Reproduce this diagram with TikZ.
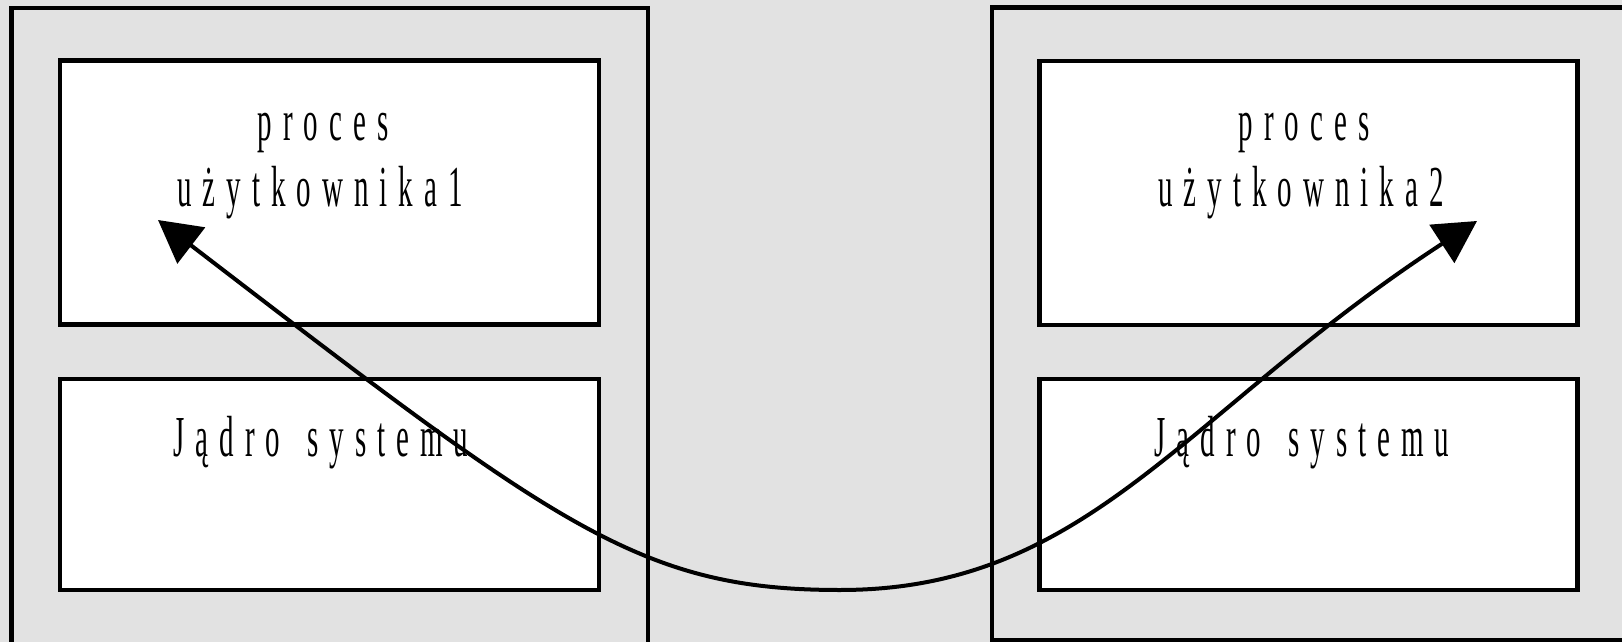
\documentclass[tikz,border=0pt]{standalone}
\usepackage{fontspec}
\usetikzlibrary{arrows.meta}
\newfontfamily\condserif[FakeStretch=0.5]{Liberation Serif}
\definecolor{bgmarble}{RGB}{226,226,226}
\makeatletter
\newcommand\spreadtext[1]{\@tfor\spr@ch:=#1\do{\spr@ch\kern11pt}\unkern}
\makeatother
\begin{document}
\begin{tikzpicture}[x=1pt,y=-1pt,
  hostframe/.style={draw=black,line width=4.2pt,inner sep=0pt},
  procbox/.style={draw=black,line width=4.5pt,fill=white,minimum width=539pt,minimum height=264pt,inner sep=0pt},
  kernbox/.style={draw=black,line width=4.5pt,fill=white,minimum width=539pt,minimum height=211pt,inner sep=0pt},
  lbl/.style={anchor=base,inner sep=0pt,font=\condserif\fontsize{58}{64}\selectfont},
  link/.style={line width=4pt,{Triangle[length=42pt,width=45pt]}-{Triangle[length=42pt,width=45pt]}}]
\useasboundingbox (0,0) rectangle (1622,642);
\fill[bgmarble] (0,0) rectangle (1622,642);
% host frames
\node[hostframe,minimum width=636.5pt,minimum height=660pt] (host1) at (329.75,338) {};
\node[hostframe,minimum width=660pt,minimum height=632.5pt] (host2) at (1322,323.75) {};
% boxes
\node[procbox] (proc1) at (329.5,192.5) {};
\node[kernbox] (kern1) at (329.5,484.5) {};
\node[procbox,minimum width=538pt] (proc2) at (1308.5,193) {};
\node[kernbox,minimum width=538pt] (kern2) at (1308.5,484.5) {};
% labels
\node[lbl] (p1a) at (323,140) {\spreadtext{proces}};
\node[lbl] (p1b) at (320,206.5) {\spreadtext{użytkownika1}};
\node[lbl] (k1) at (321,456.5) {\spreadtext{Jądro}\kern27pt\spreadtext{systemu}};
\node[lbl] (p2a) at (1304,140) {\spreadtext{proces}};
\node[lbl] (p2b) at (1301,206.5) {\spreadtext{użytkownika2}};
\node[lbl] (k2) at (1302,456.5) {\spreadtext{Jądro}\kern27pt\spreadtext{systemu}};
% connector
\coordinate (tipL) at (158,220);
\coordinate (bot) at (840,590);
\coordinate (tipR) at (1477,221);
\draw[link] (tipL) .. controls (558,527) and (640,590) .. (bot) .. controls (1090,590) and (1184,412) .. (tipR);
\end{tikzpicture}
\end{document}
